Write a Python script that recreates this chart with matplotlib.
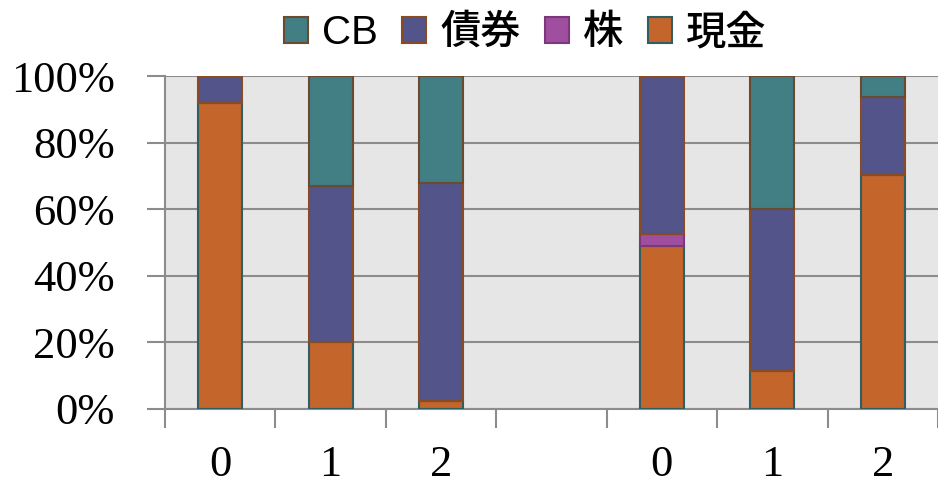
import numpy as np
import matplotlib
matplotlib.use('Agg')
import matplotlib.pyplot as plt
from matplotlib.patches import Patch

# Asset mix per bar (percent), stacked bottom to top: 現金, 株, 債券, CB
categories = ['0', '1', '2', '', '0', '1', '2']
cash = [92.0, 20.0, 2.5, 0.0, 49.0, 11.4, 70.3]
stock = [0.0, 0.0, 0.0, 0.0, 3.7, 0.0, 0.0]
bond = [8.0, 47.0, 65.5, 0.0, 47.3, 48.6, 23.5]
cb = [0.0, 33.0, 32.0, 0.0, 0.0, 40.0, 6.2]

series = [
    ('現金', cash, '#c4652c', '#2f5f63'),
    ('株', stock, '#a04ea0', '#7a3a7a'),
    ('債券', bond, '#52548a', '#8a4a22'),
    ('CB', cb, '#417f84', '#6b4a30'),
]

plt.rcParams['font.family'] = ['Liberation Sans', 'Noto Sans CJK JP', 'DejaVu Sans']

fig = plt.figure(figsize=(9.38, 4.84), dpi=100)
ax = fig.add_axes([165 / 938, 1 - 409 / 484, 1 - 165 / 938, 333 / 484])
ax.set_facecolor('#e6e6e6')

x = np.arange(len(categories))
bottom = np.zeros(len(categories))
for name, vals, color, edge in series:
    vals = np.array(vals)
    keep = vals > 0  # skip empty segments so no stray edge lines are drawn
    ax.bar(x[keep], vals[keep], width=0.4, bottom=bottom[keep], color=color,
           edgecolor=edge, linewidth=1.5, zorder=3)
    bottom += vals

ax.set_xlim(-0.5, 6.43)
ax.set_ylim(0, 100)
ax.set_yticks(np.arange(0, 101, 20))
ax.set_yticklabels([f'{v}%' for v in range(0, 101, 20)],
                   fontfamily='Liberation Serif', fontsize=32)
ax.yaxis.grid(True, color='#8c8c8c', linewidth=1.5, zorder=1)
ax.tick_params(axis='y', length=13, width=1.5, color='#8c8c8c', pad=23)

# category labels sit at bar centres, tick marks at category boundaries
ax.set_xticks(x)
ax.set_xticklabels(categories, fontfamily='Liberation Serif', fontsize=32)
ax.set_xticks(np.arange(-0.5, 7.0, 1.0), minor=True)
ax.tick_params(axis='x', which='major', length=0, pad=26)
ax.tick_params(axis='x', which='minor', length=14, width=1.5, color='#8c8c8c')

for side in ['top', 'right']:
    ax.spines[side].set_visible(False)
for side in ['left', 'bottom']:
    ax.spines[side].set_color('#8c8c8c')
    ax.spines[side].set_linewidth(1.5)

handles = [Patch(facecolor=c, edgecolor=e, linewidth=1.5, label=n)
           for n, _, c, e in reversed(series)]
fig.legend(handles=handles, loc='center', bbox_to_anchor=(525 / 938, 1 - 33 / 484),
           ncol=4, frameon=False, fontsize=29, handlelength=0.6, handleheight=0.6,
           handletextpad=0.35, columnspacing=0.6,
           prop={'size': 29, 'weight': 'medium'})

fig.savefig('out.png', dpi=100)
